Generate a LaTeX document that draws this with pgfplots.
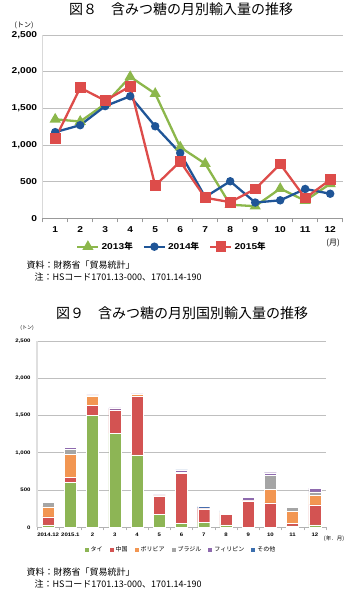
\documentclass[border=0pt]{standalone}
\usepackage{fontspec}
\setmainfont{Liberation Sans}
\newfontfamily\jp{Noto Sans CJK JP}
\newfontfamily\tf[FakeStretch=1.2]{Liberation Sans}
\usepackage{pgfplots}
\usepackage{pgfplotstable}
\pgfplotsset{compat=1.18}
\definecolor{cg}{HTML}{8CB74B}
\definecolor{cb}{HTML}{1F5597}
\definecolor{cr}{HTML}{DD4C4A}
\definecolor{bg}{HTML}{8DB555}
\definecolor{br}{HTML}{D35352}
\definecolor{bo}{HTML}{F29652}
\definecolor{bgr}{HTML}{A5A5A5}
\definecolor{bp}{HTML}{8E6AAE}
\definecolor{bb}{HTML}{3C6FAE}

\pgfplotstableread{
m y13 y14 y15
1 1350 1175 1085
2 1320 1270 1780
3 1560 1530 1605
4 1930 1665 1800
5 1700 1255 445
6 970 890 775
7 745 290 280
8 185 505 220
9 165 215 400
10 405 245 740
11 240 400 275
12 470 335 525
}\linedata

\pgfplotstableread{
x thai china bol bra phi oth
0 35 106 134 58 0 5
1 604 67 306 67 27 13
2 1506 134 124 0 13 0
3 1266 311 0 0 27 0
4 973 781 32 0 5 0
5 177 245 5 5 5 10
6 57 671 0 13 27 5
7 71 177 5 0 10 17
8 35 138 17 10 13 13
9 0 355 0 5 40 0
10 0 328 183 186 36 0
11 21 32 160 58 13 0
12 35 267 129 44 53 0
}\bardata

\begin{document}
\begin{tikzpicture}[x=1pt,y=1pt]
\useasboundingbox (0,0) rectangle (350,601);

% ---------- Figure 8 ----------
\node at (181,592) {\jp\fontsize{14}{14}\selectfont 図８　含みつ糖の月別輸入量の推移};
\node at (24,576) {\jp\fontsize{7}{7}\selectfont (トン)};
\begin{axis}[
  at={(42.7pt,382.7pt)}, anchor=south west,
  scale only axis, width=300pt, height=183.3pt,
  xmin=0.5, xmax=12.5, ymin=0, ymax=2500,
  ytick={0,500,...,2500}, xtick={1,...,12},
  minor xtick={0.5,1.5,...,12.5},
  ymajorgrids, major grid style={draw=gray!50, line width=0.8pt},
  axis lines*=left,
  x axis line style={draw=gray!80, line width=0.8pt},
  y axis line style={draw=gray!30, line width=0.8pt},
  major tick length=0pt, minor tick length=4pt,
  minor tick style={draw=gray!80, line width=0.6pt},
  tick align=outside,
  /pgf/number format/.cd, 1000 sep={,}, assume math mode=true, /pgfplots/.cd,
  ticklabel style={font=\tf\bfseries\fontsize{8.5}{8.5}\selectfont},
  xticklabel style={yshift=-5pt},
  yticklabel style={xshift=-2pt},
  legend style={at={(0.431,-0.155)}, anchor=center, draw=none, fill=none,
    legend columns=-1, font=\tf\bfseries\fontsize{8.5}{8.5}\selectfont,
    /tikz/every even column/.append style={column sep=8pt},
    /tikz/every odd column/.append style={column sep=0pt}},
  legend image code/.code={\draw[mark repeat=2,mark phase=2,#1] plot coordinates {(0pt,0pt)(10.5pt,0pt)(21pt,0pt)};},
  clip=false
]
\addplot[color=cg, line width=2.3pt, mark=triangle*, mark size=4.2pt, mark options={solid}] table[x=m,y=y13]{\linedata};
\addlegendentry{2013{\jp 年}}
\addplot[color=cb, line width=2.3pt, mark=*, mark size=3pt] table[x=m,y=y14]{\linedata};
\addlegendentry{2014{\jp 年}}
\addplot[color=cr, line width=2.3pt, mark=square*, mark size=4.2pt] table[x=m,y=y15]{\linedata};
\addlegendentry{2015{\jp 年}}
\end{axis}
\node at (333,358) {\jp\fontsize{8}{8}\selectfont (月)};
\node[anchor=west] at (23,336) {\jp\fontsize{9}{9}\selectfont 資料：財務省「貿易統計」};
\node[anchor=west] at (31,324) {\jp\fontsize{9}{9}\selectfont 注：HSコード1701.13-000、1701.14-190};

% ---------- Figure 9 ----------
\node at (182,288) {\jp\fontsize{14}{14}\selectfont 図９　含みつ糖の月別国別輸入量の推移};
\node at (27,273) {\jp\fontsize{5}{5}\selectfont (トン)};
\begin{axis}[
  at={(37pt,73.6pt)}, anchor=south west,
  scale only axis, width=289pt, height=186.4pt,
  ybar stacked, bar width=12pt,
  xmin=-0.5, xmax=12.5, ymin=0, ymax=2500,
  ytick={0,500,...,2500}, xtick={0,...,12},
  xticklabels={2014.12,2015.1,2,3,4,5,6,7,8,9,10,11,12},
  minor xtick={-0.5,0.5,...,12.5},
  ymajorgrids, major grid style={draw=gray!50, line width=0.8pt},
  axis lines*=left,
  x axis line style={draw=gray!60, line width=0.8pt},
  y axis line style={draw=gray!25, line width=2.5pt},
  major tick length=0pt, minor tick length=3pt,
  minor tick style={draw=gray!60, line width=0.5pt},
  tick align=outside,
  /pgf/number format/.cd, 1000 sep={,}, assume math mode=true, /pgfplots/.cd,
  ticklabel style={font=\tf\bfseries\fontsize{5}{5}\selectfont},
  xticklabel style={yshift=-2pt},
  yticklabel style={xshift=-3pt},
  legend style={at={(0.498,-0.121)}, anchor=center, draw=none, fill=none,
    legend columns=-1, font=\jp\fontsize{6}{6}\selectfont,
    /tikz/every even column/.append style={column sep=5pt},
    /tikz/every odd column/.append style={column sep=0pt}},
  legend image code/.code={\fill[#1,draw=none] (0pt,-2pt) rectangle (4pt,2pt);},
  clip=false
]
\addplot[fill=bg, draw=white, line width=0.4pt] table[x=x,y=thai]{\bardata};
\addlegendentry{タイ}
\addplot[fill=br, draw=white, line width=0.4pt] table[x=x,y=china]{\bardata};
\addlegendentry{中国}
\addplot[fill=bo, draw=white, line width=0.4pt] table[x=x,y=bol]{\bardata};
\addlegendentry{ボリビア}
\addplot[fill=bgr, draw=white, line width=0.4pt] table[x=x,y=bra]{\bardata};
\addlegendentry{ブラジル}
\addplot[fill=bp, draw=white, line width=0.4pt] table[x=x,y=phi]{\bardata};
\addlegendentry{フィリピン}
\addplot[fill=bb, draw=white, line width=0.4pt] table[x=x,y=oth]{\bardata};
\addlegendentry{その他}
\end{axis}
\node at (334,62.3) {\jp\fontsize{5.5}{5.5}\selectfont (年．月)};
\node[anchor=west] at (23,29.3) {\jp\fontsize{9}{9}\selectfont 資料：財務省「貿易統計」};
\node[anchor=west] at (31,17) {\jp\fontsize{9}{9}\selectfont 注：HSコード1701.13-000、1701.14-190};
\end{tikzpicture}
\end{document}
